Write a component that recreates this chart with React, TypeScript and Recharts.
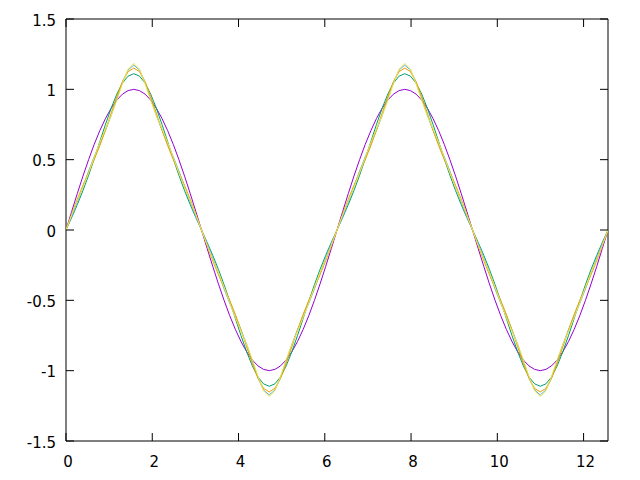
import { Line, LineChart, ReferenceArea, XAxis, YAxis } from 'recharts';

// x sampled every pi/24 over [0, 4pi]
const xValues = [
  0, 0.131, 0.262, 0.393, 0.524, 0.654, 0.785, 0.916, 1.047, 1.178, 1.309, 1.44, 1.571,
  1.702, 1.833, 1.963, 2.094, 2.225, 2.356, 2.487, 2.618, 2.749, 2.88, 3.011, 3.142,
  3.272, 3.403, 3.534, 3.665, 3.796, 3.927, 4.058, 4.189, 4.32, 4.451, 4.581, 4.712,
  4.843, 4.974, 5.105, 5.236, 5.367, 5.498, 5.629, 5.76, 5.89, 6.021, 6.152, 6.283,
  6.414, 6.545, 6.676, 6.807, 6.938, 7.069, 7.199, 7.33, 7.461, 7.592, 7.723, 7.854,
  7.985, 8.116, 8.247, 8.378, 8.508, 8.639, 8.77, 8.901, 9.032, 9.163, 9.294, 9.425,
  9.556, 9.687, 9.817, 9.948, 10.079, 10.21, 10.341, 10.472, 10.603, 10.734, 10.865, 10.996,
  11.126, 11.257, 11.388, 11.519, 11.65, 11.781, 11.912, 12.043, 12.174, 12.305, 12.435, 12.566,
];

const sinX = [
  0, 0.131, 0.259, 0.383, 0.5, 0.609, 0.707, 0.793, 0.866, 0.924, 0.966, 0.991, 1,
  0.991, 0.966, 0.924, 0.866, 0.793, 0.707, 0.609, 0.5, 0.383, 0.259, 0.131, 0,
  -0.131, -0.259, -0.383, -0.5, -0.609, -0.707, -0.793, -0.866, -0.924, -0.966, -0.991, -1,
  -0.991, -0.966, -0.924, -0.866, -0.793, -0.707, -0.609, -0.5, -0.383, -0.259, -0.131, 0,
  0.131, 0.259, 0.383, 0.5, 0.609, 0.707, 0.793, 0.866, 0.924, 0.966, 0.991, 1,
  0.991, 0.966, 0.924, 0.866, 0.793, 0.707, 0.609, 0.5, 0.383, 0.259, 0.131, 0,
  -0.131, -0.259, -0.383, -0.5, -0.609, -0.707, -0.793, -0.866, -0.924, -0.966, -0.991, -1,
  -0.991, -0.966, -0.924, -0.866, -0.793, -0.707, -0.609, -0.5, -0.383, -0.259, -0.131, 0,
];

const twoTerms = [
  0, 0.088, 0.18, 0.28, 0.389, 0.506, 0.629, 0.751, 0.866, 0.966, 1.045, 1.094, 1.111,
  1.094, 1.045, 0.966, 0.866, 0.751, 0.629, 0.506, 0.389, 0.28, 0.18, 0.088, 0,
  -0.088, -0.18, -0.28, -0.389, -0.506, -0.629, -0.751, -0.866, -0.966, -1.045, -1.094, -1.111,
  -1.094, -1.045, -0.966, -0.866, -0.751, -0.629, -0.506, -0.389, -0.28, -0.18, -0.088, 0,
  0.088, 0.18, 0.28, 0.389, 0.506, 0.629, 0.751, 0.866, 0.966, 1.045, 1.094, 1.111,
  1.094, 1.045, 0.966, 0.866, 0.751, 0.629, 0.506, 0.389, 0.28, 0.18, 0.088, 0,
  -0.088, -0.18, -0.28, -0.389, -0.506, -0.629, -0.751, -0.866, -0.966, -1.045, -1.094, -1.111,
  -1.094, -1.045, -0.966, -0.866, -0.751, -0.629, -0.506, -0.389, -0.28, -0.18, -0.088, 0,
];

const threeTerms = [
  0, 0.112, 0.219, 0.317, 0.409, 0.501, 0.6, 0.711, 0.831, 0.951, 1.055, 1.126, 1.151,
  1.126, 1.055, 0.951, 0.831, 0.711, 0.6, 0.501, 0.409, 0.317, 0.219, 0.112, 0,
  -0.112, -0.219, -0.317, -0.409, -0.501, -0.6, -0.711, -0.831, -0.951, -1.055, -1.126, -1.151,
  -1.126, -1.055, -0.951, -0.831, -0.711, -0.6, -0.501, -0.409, -0.317, -0.219, -0.112, 0,
  0.112, 0.219, 0.317, 0.409, 0.501, 0.6, 0.711, 0.831, 0.951, 1.055, 1.126, 1.151,
  1.126, 1.055, 0.951, 0.831, 0.711, 0.6, 0.501, 0.409, 0.317, 0.219, 0.112, 0,
  -0.112, -0.219, -0.317, -0.409, -0.501, -0.6, -0.711, -0.831, -0.951, -1.055, -1.126, -1.151,
  -1.126, -1.055, -0.951, -0.831, -0.711, -0.6, -0.501, -0.409, -0.317, -0.219, -0.112, 0,
];

const fourTerms = [
  0, 0.096, 0.199, 0.309, 0.419, 0.521, 0.615, 0.709, 0.814, 0.932, 1.05, 1.138, 1.172,
  1.138, 1.05, 0.932, 0.814, 0.709, 0.615, 0.521, 0.419, 0.309, 0.199, 0.096, 0,
  -0.096, -0.199, -0.309, -0.419, -0.521, -0.615, -0.709, -0.814, -0.932, -1.05, -1.138, -1.172,
  -1.138, -1.05, -0.932, -0.814, -0.709, -0.615, -0.521, -0.419, -0.309, -0.199, -0.096, 0,
  0.096, 0.199, 0.309, 0.419, 0.521, 0.615, 0.709, 0.814, 0.932, 1.05, 1.138, 1.172,
  1.138, 1.05, 0.932, 0.814, 0.709, 0.615, 0.521, 0.419, 0.309, 0.199, 0.096, 0,
  -0.096, -0.199, -0.309, -0.419, -0.521, -0.615, -0.709, -0.814, -0.932, -1.05, -1.138, -1.172,
  -1.138, -1.05, -0.932, -0.814, -0.709, -0.615, -0.521, -0.419, -0.309, -0.199, -0.096, 0,
];

const fiveTerms = [
  0, 0.108, 0.208, 0.304, 0.407, 0.516, 0.623, 0.72, 0.814, 0.921, 1.041, 1.143, 1.184,
  1.143, 1.041, 0.921, 0.814, 0.72, 0.623, 0.516, 0.407, 0.304, 0.208, 0.108, 0,
  -0.108, -0.208, -0.304, -0.407, -0.516, -0.623, -0.72, -0.814, -0.921, -1.041, -1.143, -1.184,
  -1.143, -1.041, -0.921, -0.814, -0.72, -0.623, -0.516, -0.407, -0.304, -0.208, -0.108, 0,
  0.108, 0.208, 0.304, 0.407, 0.516, 0.623, 0.72, 0.814, 0.921, 1.041, 1.143, 1.184,
  1.143, 1.041, 0.921, 0.814, 0.72, 0.623, 0.516, 0.407, 0.304, 0.208, 0.108, 0,
  -0.108, -0.208, -0.304, -0.407, -0.516, -0.623, -0.72, -0.814, -0.921, -1.041, -1.143, -1.184,
  -1.143, -1.041, -0.921, -0.814, -0.72, -0.623, -0.516, -0.407, -0.304, -0.208, -0.108, 0,
];

const xTicks = [0, 2, 4, 6, 8, 10, 12];
const yTicks = [-1.5, -1, -0.5, 0, 0.5, 1, 1.5];
const X_MAX = 12.566;

const data = xValues.map((x, i) => ({
  x,
  s1: sinX[i],
  s2: twoTerms[i],
  s3: threeTerms[i],
  s4: fourTerms[i],
  s5: fiveTerms[i],
}));

// plot box in pixels, gnuplot-style inward ticks on all four sides
const BOX = { left: 66, right: 608, top: 19, bottom: 441 };
const TICK = 8;
const FONT = { fontFamily: 'DejaVu Sans, sans-serif', fontSize: 15, fill: '#000' };

function XTick(props: any) {
  const { x, payload } = props;
  return (
    <g>
      <line x1={x} x2={x} y1={BOX.bottom} y2={BOX.bottom - TICK} stroke="#000" />
      <line x1={x} x2={x} y1={BOX.top} y2={BOX.top + TICK} stroke="#000" />
      <text x={x + 2} y={BOX.bottom + 26} textAnchor="middle" {...FONT}>
        {payload.value}
      </text>
    </g>
  );
}

function YTick(props: any) {
  const { y, payload } = props;
  return (
    <g>
      <line x1={BOX.left} x2={BOX.left + TICK} y1={y} y2={y} stroke="#000" />
      <line x1={BOX.right} x2={BOX.right - TICK} y1={y} y2={y} stroke="#000" />
      <text x={BOX.left - 10} y={y + 6.5} textAnchor="end" {...FONT}>
        {String(payload.value)}
      </text>
    </g>
  );
}

export default function App() {
  return (
    <div style={{ position: 'absolute', left: 0, top: 0, width: 640, height: 480, background: '#fff' }}>
      <LineChart
        width={640}
        height={480}
        data={data}
        margin={{ top: BOX.top, right: 640 - BOX.right, bottom: 0, left: 0 }}
      >
        <XAxis
          dataKey="x"
          type="number"
          domain={[0, X_MAX]}
          ticks={xTicks}
          height={480 - BOX.bottom}
          axisLine={false}
          tickLine={false}
          tickSize={0}
          tick={XTick}
          allowDataOverflow
        />
        <YAxis
          type="number"
          domain={[-1.5, 1.5]}
          ticks={yTicks}
          width={BOX.left}
          axisLine={false}
          tickLine={false}
          tickSize={0}
          tick={YTick}
          allowDataOverflow
        />
        <ReferenceArea x1={0} x2={X_MAX} y1={-1.5} y2={1.5} fill="none" stroke="#000" strokeWidth={1} />
        <Line type="linear" dataKey="s1" stroke="#9400d3" strokeWidth={1} dot={false} isAnimationActive={false} />
        <Line type="linear" dataKey="s2" stroke="#009e73" strokeWidth={1} dot={false} isAnimationActive={false} />
        <Line type="linear" dataKey="s4" stroke="#56b4e9" strokeWidth={1} dot={false} isAnimationActive={false} />
        <Line type="linear" dataKey="s3" stroke="#e69f00" strokeWidth={1} dot={false} isAnimationActive={false} />
        <Line type="linear" dataKey="s5" stroke="#f0e442" strokeWidth={1} dot={false} isAnimationActive={false} />
      </LineChart>
    </div>
  );
}
